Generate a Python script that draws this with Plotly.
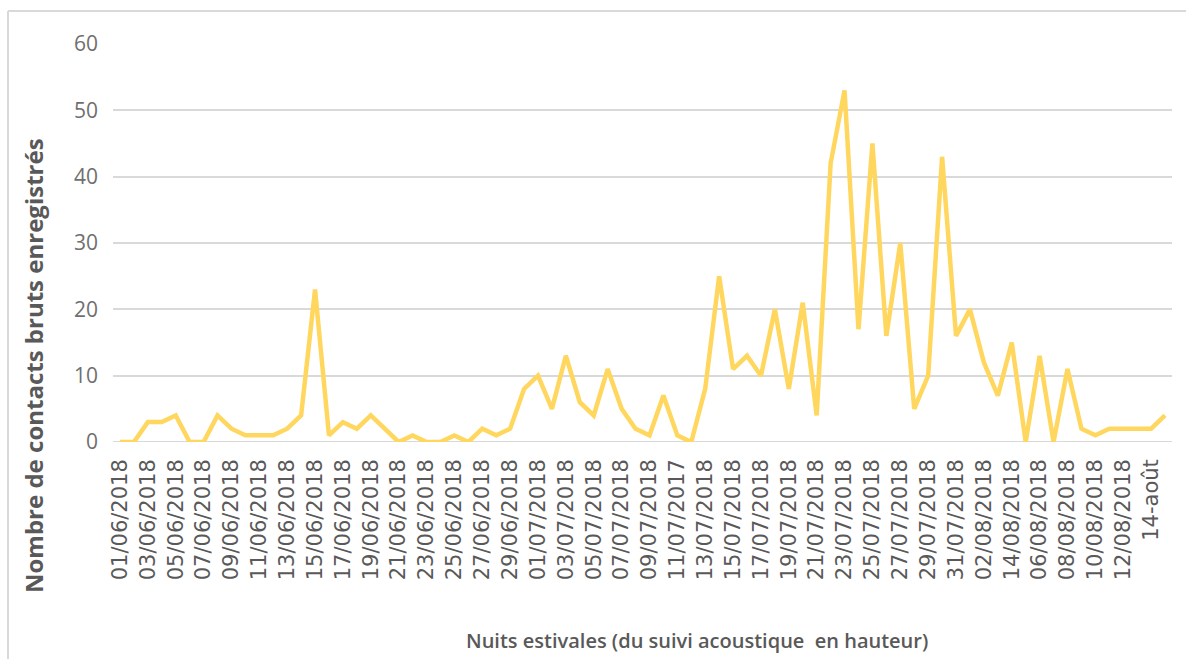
import datetime as dt
import plotly.graph_objects as go

# Nightly raw bat-contact counts, 1 June to 15 August 2018
start = dt.date(2018, 6, 1)
nights = [(start + dt.timedelta(days=i)).strftime("%d/%m/%Y") for i in range(76)]

contacts = [
    0, 0, 3, 3, 4, 0, 0, 4, 2, 1,
    1, 1, 2, 4, 23, 1, 3, 2, 4, 2,
    0, 1, 0, 0, 1, 0, 2, 1, 2, 8,
    10, 5, 13, 6, 4, 11, 5, 2, 1, 7,
    1, 0, 8, 25, 11, 13, 10, 20, 8, 21,
    4, 42, 53, 17, 45, 16, 30, 5, 10, 43,
    16, 20, 12, 7, 15, 0, 13, 0, 11, 2,
    1, 2, 2, 2, 2, 4,
]

# Axis labels, one every second night (as printed in the source sheet)
tick_labels = [
    "01/06/2018", "03/06/2018", "05/06/2018", "07/06/2018", "09/06/2018",
    "11/06/2018", "13/06/2018", "15/06/2018", "17/06/2018", "19/06/2018",
    "21/06/2018", "23/06/2018", "25/06/2018", "27/06/2018", "29/06/2018",
    "01/07/2018", "03/07/2018", "05/07/2018", "07/07/2018", "09/07/2018",
    "11/07/2017", "13/07/2018", "15/07/2018", "17/07/2018", "19/07/2018",
    "21/07/2018", "23/07/2018", "25/07/2018", "27/07/2018", "29/07/2018",
    "31/07/2018", "02/08/2018", "14/08/2018", "06/08/2018", "08/08/2018",
    "10/08/2018", "12/08/2018", "14-août",
]

y_title = "Nombre de contacts bruts enregistrés"
x_title = "Nuits estivales (du suivi acoustique  en hauteur)"

LINE = "#FFD75E"
GRID = "#D9D9D9"
TEXT = "#595959"

fig = go.Figure(
    go.Scatter(
        x=nights,
        y=contacts,
        mode="lines",
        line=dict(color=LINE, width=4.5),
        hoverinfo="x+y",
    )
)

W, H = 1186, 659
L, R, T, B = 113, 14, 44, 217
pw, ph = W - L - R, H - T - B


def px_x(x):
    return (x - L) / pw


def px_y(y):
    return (H - B - y) / ph


fig.update_layout(
    width=W,
    height=H,
    margin=dict(l=L, r=R, t=T, b=B),
    paper_bgcolor="white",
    plot_bgcolor="white",
    showlegend=False,
    font=dict(family="Liberation Sans, Arial, sans-serif", color=TEXT),
    xaxis=dict(
        type="category",
        categoryorder="array",
        categoryarray=nights,
        range=[-0.5, len(nights) - 0.5],
        tickmode="array",
        tickvals=nights[::2],
        ticktext=tick_labels,
        tickangle=-90,
        tickfont=dict(family="DejaVu Sans", size=21, color=TEXT),
        ticklabelstandoff=12,
        showgrid=False,
        showline=False,
        ticks="",
        zeroline=False,
    ),
    yaxis=dict(
        range=[0, 60],
        tickvals=[0, 10, 20, 30, 40, 50, 60],
        tickfont=dict(family="Open Sans", size=21, color="#6f6f6f"),
        ticklabelstandoff=14,
        showgrid=True,
        gridcolor=GRID,
        gridwidth=2,
        zeroline=False,
        showline=False,
        ticks="",
    ),
    shapes=[
        # outer frame of the chart block (top and left edges)
        dict(type="line", xref="paper", yref="paper",
             x0=px_x(8), x1=px_x(1200), y0=px_y(11), y1=px_y(11),
             line=dict(color=GRID, width=2)),
        dict(type="line", xref="paper", yref="paper",
             x0=px_x(8), x1=px_x(8), y0=px_y(11), y1=px_y(700),
             line=dict(color=GRID, width=2)),
        # baseline at zero
        dict(type="line", xref="paper", yref="y",
             x0=0, x1=1, y0=0, y1=0,
             line=dict(color=GRID, width=2), layer="below"),
    ],
    annotations=[
        dict(text=y_title, xref="paper", yref="paper",
             x=px_x(33), y=px_y(366), textangle=-90, showarrow=False,
             font=dict(family="Open Sans", size=24, color=TEXT, weight="bold"),
             xanchor="center", yanchor="middle"),
        dict(text=x_title, xref="paper", yref="paper",
             x=px_x(697), y=px_y(640), showarrow=False,
             font=dict(family="Open Sans", size=20, color=TEXT, weight=600),
             xanchor="center", yanchor="middle"),
    ],
)

fig.write_html("out.html")
